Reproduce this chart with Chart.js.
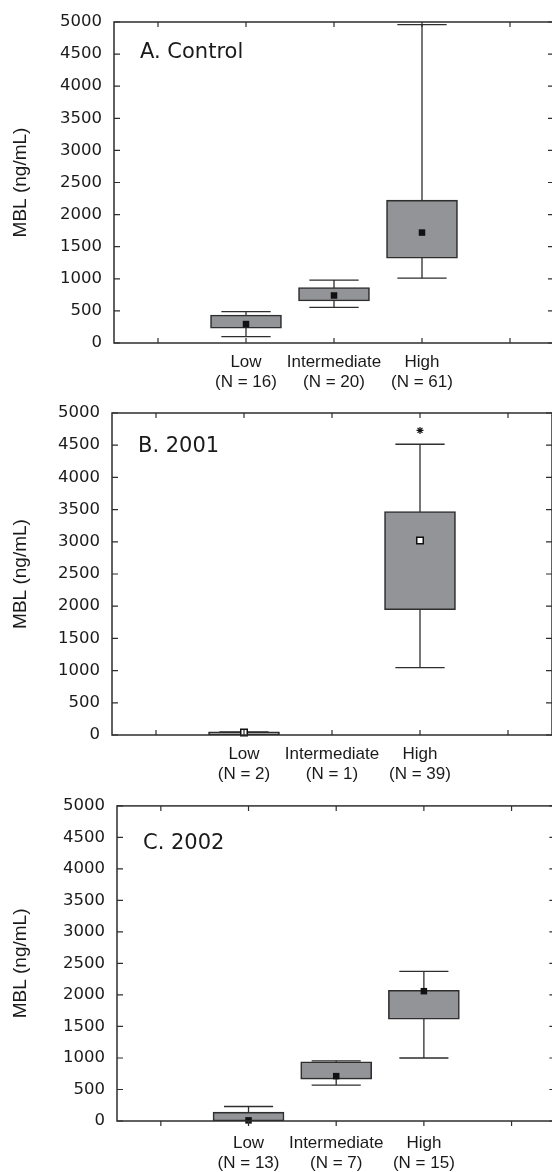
<!DOCTYPE html>
<html>
<head>
<meta charset="utf-8">
<script src="https://cdn.jsdelivr.net/npm/chart.js@4.4.1/dist/chart.umd.min.js"></script>
<style>
  html, body { margin: 0; padding: 0; background: #fff; overflow: hidden; width: 552px; height: 1172px; }
  canvas { display: block; }
</style>
</head>
<body>
<canvas id="panelA" width="560" height="390"></canvas>
<canvas id="panelB" width="560" height="394"></canvas>
<canvas id="panelC" width="560" height="388"></canvas>
<script>
// categories and tick labels
const categories = ['Low', 'Intermediate', 'High'];
const yTickValues = [0, 500, 1000, 1500, 2000, 2500, 3000, 3500, 4000, 4500, 5000];
const panelTitles = ['A. Control', 'B. 2001', 'C. 2002'];

// A. Control
const controlN    = [16, 20, 61];
const controlMin  = [100, 555, 1010];
const controlQ1   = [230, 655, 1320];
const controlQ3   = [435, 865, 2225];
const controlMax  = [490, 980, 4960];
const controlMean = [295, 740, 1720];

// B. 2001
const y2001N       = [2, 1, 39];
const y2001Min     = [0, null, 1045];
const y2001Q1      = [0, null, 1945];
const y2001Q3      = [50, null, 3470];
const y2001Max     = [50, null, 4515];
const y2001Mean    = [40, null, 3020];
const y2001Outlier = [null, null, 4730];

// C. 2002
const y2002N    = [13, 7, 15];
const y2002Min  = [0, 570, 1000];
const y2002Q1   = [0, 665, 1615];
const y2002Q3   = [140, 940, 2075];
const y2002Max  = [230, 955, 2375];
const y2002Mean = [10, 712, 2060];

const INK = '#2e2e2e';
const BOX_FILL = '#939498';
const CAP_HALF = 0.28;

// frame, inward ticks and the panel letter
const framePlugin = {
    id: 'frameTicks',
    afterDatasetsDraw(chart, args, opts) {
        const { ctx, chartArea: { left, right, top, bottom }, scales: { x, y } } = chart;
        ctx.save();
        ctx.strokeStyle = INK;
        ctx.lineWidth = 1.5;
        ctx.strokeRect(left, top, right - left, bottom - top);
        ctx.lineWidth = 1.2;
        ctx.beginPath();
        x.ticks.forEach(t => {
            const px = x.getPixelForValue(t.value);
            ctx.moveTo(px, top); ctx.lineTo(px, top + 5);
            ctx.moveTo(px, bottom); ctx.lineTo(px, opts.bottomOut ? bottom + 5 : bottom - 5);
        });
        y.ticks.forEach(t => {
            const py = y.getPixelForValue(t.value);
            ctx.moveTo(left, py); ctx.lineTo(left + 6, py);
            ctx.moveTo(right, py); ctx.lineTo(right - 6, py);
        });
        ctx.stroke();
        ctx.fillStyle = '#1a1a1a';
        ctx.font = '21px "DejaVu Sans"';
        ctx.textBaseline = 'alphabetic';
        ctx.fillText(opts.title, left + 26, top + opts.titleDy);
        ctx.restore();
    }
};

function makePanel(id, p) {
    const whiskers = [], caps = [], boxes = [], means = [], stars = [];
    categories.forEach((c, i) => {
        if (p.q1[i] == null) return;
        const x = i + 1;
        whiskers.push({ x, y: p.min[i] }, { x, y: p.max[i] }, { x, y: null });
        caps.push({ x: x - CAP_HALF, y: p.max[i] }, { x: x + CAP_HALF, y: p.max[i] }, { x, y: null });
        caps.push({ x: x - CAP_HALF, y: p.min[i] }, { x: x + CAP_HALF, y: p.min[i] }, { x, y: null });
        boxes.push({ x, y: [p.q1[i], p.q3[i]] });
        means.push({ x, y: p.mean[i] });
        if (p.outlier && p.outlier[i] != null) stars.push({ x, y: p.outlier[i] });
    });

    new Chart(document.getElementById(id), {
        type: 'bar',
        data: {
            datasets: [{
                type: 'line',
                data: whiskers,
                borderColor: INK,
                borderWidth: 1.3,
                pointRadius: 0,
                order: 3
            }, {
                type: 'line',
                data: caps,
                borderColor: INK,
                borderWidth: 1.3,
                pointRadius: 0,
                order: 3
            }, {
                type: 'bar',
                data: boxes,
                backgroundColor: BOX_FILL,
                borderColor: INK,
                borderWidth: 1.6,
                borderSkipped: false,
                barThickness: 71,
                order: 2
            }, {
                type: 'scatter',
                data: means,
                pointStyle: 'rect',
                pointRadius: 4.6,
                backgroundColor: p.meanFill,
                borderColor: '#111',
                borderWidth: p.meanFill === '#ffffff' ? 1.5 : 0,
                clip: false,
                order: 1
            }, {
                type: 'scatter',
                data: stars,
                pointStyle: 'star',
                pointRadius: 3.5,
                borderColor: '#111',
                borderWidth: 1.2,
                order: 1
            }]
        },
        options: {
            responsive: false,
            animation: false,
            devicePixelRatio: 1,
            layout: { padding: { top: p.top, right: 560 - p.left - 440, left: 0, bottom: 0 } },
            plugins: {
                legend: { display: false },
                tooltip: { enabled: false },
                frameTicks: { title: p.title, titleDy: p.titleDy, bottomOut: p.bottomOut }
            },
            scales: {
                x: {
                    type: 'linear',
                    min: -0.5,
                    max: 4.5,
                    offset: false,
                    grid: { display: false, drawTicks: false },
                    border: { display: false },
                    afterBuildTicks: axis => { axis.ticks = [0, 1, 2, 3, 4].map(v => ({ value: v })); },
                    afterFit: axis => { axis.height = p.xAxisHeight; },
                    ticks: {
                        autoSkip: false,
                        maxRotation: 0,
                        padding: p.labelPad,
                        color: '#1a1a1a',
                        font: { family: '"Liberation Sans", Arial, sans-serif', size: 17, lineHeight: 1.18 },
                        callback: v => {
                            const c = categories[v - 1];
                            return c ? [c, '(N = ' + p.n[v - 1] + ')'] : '';
                        }
                    }
                },
                y: {
                    min: 0,
                    max: 5000,
                    grid: { display: false, drawTicks: false },
                    border: { display: false },
                    afterBuildTicks: axis => { axis.ticks = yTickValues.map(v => ({ value: v })); },
                    afterFit: axis => { axis.width = p.left; },
                    ticks: {
                        padding: 12,
                        color: '#1a1a1a',
                        font: { family: '"DejaVu Sans", sans-serif', size: 16.5 },
                        callback: v => String(v)
                    },
                    title: {
                        display: true,
                        text: 'MBL (ng/mL)',
                        color: '#1a1a1a',
                        font: { family: '"Liberation Sans", Arial, sans-serif', size: 19 },
                        padding: { top: 9, bottom: 0 }
                    }
                }
            }
        },
        plugins: [framePlugin]
    });
}

makePanel('panelA', {
    title: panelTitles[0], titleDy: 36, top: 22, left: 114, xAxisHeight: 47, labelPad: 9, bottomOut: false,
    n: controlN, min: controlMin, q1: controlQ1, q3: controlQ3, max: controlMax, mean: controlMean,
    meanFill: '#111111'
});
makePanel('panelB', {
    title: panelTitles[1], titleDy: 39, top: 23, left: 112, xAxisHeight: 49, labelPad: 9, bottomOut: false,
    n: y2001N, min: y2001Min, q1: y2001Q1, q3: y2001Q3, max: y2001Max, mean: y2001Mean,
    outlier: y2001Outlier, meanFill: '#ffffff'
});
makePanel('panelC', {
    title: panelTitles[2], titleDy: 43, top: 21, left: 117, xAxisHeight: 51, labelPad: 12, bottomOut: true,
    n: y2002N, min: y2002Min, q1: y2002Q1, q3: y2002Q3, max: y2002Max, mean: y2002Mean,
    meanFill: '#111111'
});
</script>
</body>
</html>
